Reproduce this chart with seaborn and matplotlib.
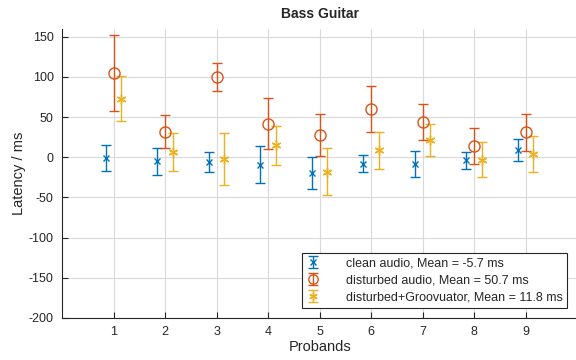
import numpy as np
import matplotlib
matplotlib.use("Agg")
import matplotlib.pyplot as plt
import seaborn as sns

# Werte
probands = [1, 2, 3, 4, 5, 6, 7, 8, 9]

clean = [-1, -5, -6, -9, -20, -8, -8, -4, 9]
clean_err = [16, 17, 12.5, 23, 20, 10.5, 16, 10, 13.7]

disturbed = [105, 32, 100, 42, 28, 60, 44, 14, 31]
disturbed_err = [47, 21, 18, 32, 26, 29, 22, 22, 23]

groov = [73, 7, -2, 15, -18, 9, 21, -3, 4]
groov_err = [28, 23.5, 32, 24, 29.5, 23, 20, 21.5, 22]

labels = ["clean audio, Mean = -5.7 ms",
          "disturbed audio, Mean = 50.7 ms",
          "disturbed+Groovuator, Mean = 11.8 ms"]

sns.set_theme(style="whitegrid")
plt.rcParams['font.family'] = ['Liberation Sans', 'DejaVu Sans']
plt.rcParams['axes.unicode_minus'] = False

fig = plt.figure(figsize=(5.76, 3.6), dpi=100)
ax = fig.add_axes([0.108, 0.117, 0.894, 0.803])

colors = ["#0072BD", "#D95319", "#EDB120"]
markers = ["x", "o", (6, 2, 0)]
sizes = [5, 8, 7]
offsets = [-0.15, 0.0, 0.15]
series = [(clean, clean_err), (disturbed, disturbed_err), (groov, groov_err)]

x = np.array(probands, dtype=float)
for (y, e), c, m, ms, o, lab in zip(series, colors, markers, sizes, offsets, labels):
    ax.errorbar(x + o, y, yerr=e, linestyle="none", marker=m, markersize=ms,
                color=c, ecolor=c, elinewidth=1, capsize=3.5, capthick=1,
                markerfacecolor="none", markeredgecolor=c, markeredgewidth=1,
                label=lab)

ax.set_xlim(0, 10)
ax.set_ylim(-200, 160)
ax.set_xticks(probands)
ax.set_yticks(np.arange(-200, 151, 50))
ax.grid(True, color="#d9d9d9", linewidth=0.8)
ax.set_facecolor("white")

for s in ["top", "right"]:
    ax.spines[s].set_visible(False)
for s in ["left", "bottom"]:
    ax.spines[s].set_visible(True)
    ax.spines[s].set_color("#262626")
    ax.spines[s].set_linewidth(0.8)

ax.tick_params(axis="both", direction="in", length=4, width=0.8,
               colors="#262626", labelsize=9, left=True, bottom=True, pad=6)

ax.set_xlabel("Probands", fontsize=10.5, color="#262626", labelpad=1)
ax.set_ylabel("Latency / ms", fontsize=10.5, color="#262626", labelpad=2)
ax.set_title("Bass Guitar", fontsize=10, fontweight="bold", pad=8)

leg = ax.legend(loc="lower right", fontsize=9, markerscale=0.85,
                frameon=True, fancybox=False, edgecolor="#262626", framealpha=1,
                borderaxespad=0.8, handlelength=1.2, handletextpad=2.0,
                labelspacing=0.4, borderpad=0.35)
leg.get_frame().set_linewidth(0.8)

fig.savefig("out.png", dpi=100)
